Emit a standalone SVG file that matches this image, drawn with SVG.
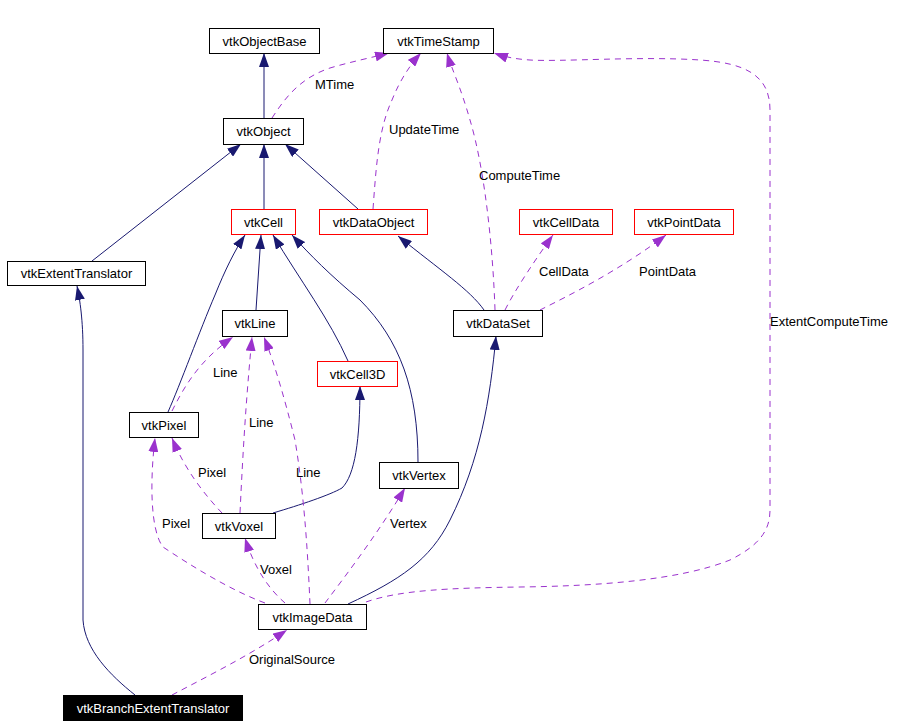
<svg xmlns="http://www.w3.org/2000/svg" width="900" height="727" viewBox="0 0 900 727">
<style>
text{font-family:"Liberation Sans",Arial,Helvetica,sans-serif;font-size:13px;fill:#000}
.n rect{fill:#fff;stroke:#000;stroke-width:1}
.n.r rect{stroke:#ff0000}
.n.b rect{fill:#000}
.n.b text{fill:#fff}
.n text{text-anchor:middle}
.inh{fill:none;stroke:#191970;stroke-width:1;marker-end:url(#ai)}
.use{fill:none;stroke:#9a32cd;stroke-width:1;stroke-dasharray:6,5;marker-end:url(#au)}
</style>
<defs>
<marker id="ai" markerUnits="userSpaceOnUse" markerWidth="14" markerHeight="10" refX="14" refY="5" orient="auto"><path d="M0,0 L14,5 L0,10 z" fill="#191970"/></marker>
<marker id="au" markerUnits="userSpaceOnUse" markerWidth="14" markerHeight="10" refX="14" refY="5" orient="auto"><path d="M0,0 L14,5 L0,10 z" fill="#9a32cd"/></marker>
</defs>
<rect width="900" height="727" fill="#fff"/>
<g id="connectors">
<path class="inh" d="M264,118 L264,53"/>
<path class="use" d="M272,118 C285,98 300,78 330,68 C350,62 370,58 389,53"/>
<path class="inh" d="M92,261 L241,144"/>
<path class="inh" d="M264,209 L264,144"/>
<path class="inh" d="M358,209 L285,144"/>
<path class="use" d="M373,209 C376,170 378,130 392,100 C400,80 410,65 421,53"/>
<path class="use" d="M495,310 C493,250 485,170 470,120 C460,85 452,70 447,53"/>
<path class="use" d="M366,602 C400,590 450,588 520,587 C600,586 680,580 730,560 C760,545 770,530 770,510 L770,110 C770,75 745,63 700,60 C640,56 560,62 530,60 C515,59 505,57 494,53"/>
<path class="inh" d="M484,310 C470,290 440,270 398,236"/>
<path class="use" d="M505,310 C515,290 535,260 553,235"/>
<path class="use" d="M540,310 C570,295 620,270 666,235"/>
<path class="inh" d="M256,310 L261,235"/>
<path class="inh" d="M168,412 C180,385 200,330 215,295 C225,270 235,250 245,235"/>
<path class="inh" d="M348,361 C330,320 300,280 273,235"/>
<path class="inh" d="M418,462 C418,390 400,340 360,300 C330,275 310,255 292,235"/>
<path class="inh" d="M273,513 C300,505 330,495 342,488 C355,475 360,440 360,386"/>
<path class="use" d="M172,411 C185,385 200,360 233,337"/>
<path class="use" d="M240,513 C243,450 246,400 252,337"/>
<path class="use" d="M310,604 C308,560 305,500 295,440 C285,400 275,365 264,337"/>
<path class="use" d="M222,513 C205,495 185,470 172,438"/>
<path class="use" d="M265,603 C230,590 190,565 163,547 C150,530 150,480 155,438"/>
<path class="use" d="M285,603 C270,590 255,570 245,538"/>
<path class="use" d="M325,603 C350,570 380,530 405,488"/>
<path class="inh" d="M348,604 C400,580 430,560 450,520 C480,460 490,400 496,336"/>
<path class="inh" d="M135,695 C110,675 85,650 83,620 L83,350 C83,320 80,300 77,286"/>
<path class="use" d="M172,695 C210,675 250,655 287,630"/>
<text x="315" y="89">MTime</text>
<text x="389" y="134">UpdateTime</text>
<text x="479" y="180">ComputeTime</text>
<text x="770" y="326">ExtentComputeTime</text>
<text x="539" y="276">CellData</text>
<text x="639" y="276">PointData</text>
<text x="213" y="377">Line</text>
<text x="249" y="427">Line</text>
<text x="296" y="477">Line</text>
<text x="198" y="477">Pixel</text>
<text x="162" y="528">Pixel</text>
<text x="260" y="574">Voxel</text>
<text x="390" y="528">Vertex</text>
<text x="249" y="664">OriginalSource</text>
</g>
<g id="vtkObjectBase" class="n"><rect x="209.5" y="28.5" width="110" height="25"/><text x="264.5" y="45.5">vtkObjectBase</text></g>
<g id="vtkTimeStamp" class="n"><rect x="383.5" y="28.5" width="110" height="25"/><text x="438.5" y="45.5">vtkTimeStamp</text></g>
<g id="vtkObject" class="n"><rect x="223.5" y="118.5" width="80" height="26"/><text x="263.5" y="136">vtkObject</text></g>
<g id="vtkCell" class="n r"><rect x="231.5" y="209.5" width="64" height="25"/><text x="263.5" y="226.5">vtkCell</text></g>
<g id="vtkDataObject" class="n r"><rect x="319.5" y="209.5" width="108" height="25"/><text x="373.5" y="226.5">vtkDataObject</text></g>
<g id="vtkCellData" class="n r"><rect x="519.5" y="209.5" width="93" height="25"/><text x="566" y="226.5">vtkCellData</text></g>
<g id="vtkPointData" class="n r"><rect x="634.5" y="209.5" width="99" height="25"/><text x="684" y="226.5">vtkPointData</text></g>
<g id="vtkExtentTranslator" class="n"><rect x="7.5" y="261.5" width="138" height="24"/><text x="76.5" y="278">vtkExtentTranslator</text></g>
<g id="vtkLine" class="n"><rect x="222.5" y="310.5" width="65" height="26"/><text x="255" y="328">vtkLine</text></g>
<g id="vtkDataSet" class="n"><rect x="453.5" y="310.5" width="89" height="26"/><text x="498" y="328">vtkDataSet</text></g>
<g id="vtkCell3D" class="n r"><rect x="317.5" y="361.5" width="80" height="25"/><text x="357.5" y="378.5">vtkCell3D</text></g>
<g id="vtkPixel" class="n"><rect x="129.5" y="412.5" width="69" height="25"/><text x="164" y="429.5">vtkPixel</text></g>
<g id="vtkVertex" class="n"><rect x="379.5" y="462.5" width="79" height="26"/><text x="419" y="480">vtkVertex</text></g>
<g id="vtkVoxel" class="n"><rect x="202.5" y="513.5" width="73" height="25"/><text x="239" y="530.5">vtkVoxel</text></g>
<g id="vtkImageData" class="n"><rect x="258.5" y="604.5" width="108" height="25"/><text x="312.5" y="621.5">vtkImageData</text></g>
<g id="vtkBranchExtentTranslator" class="n b"><rect x="63.5" y="695.5" width="179" height="25"/><text x="153" y="712.5">vtkBranchExtentTranslator</text></g>
</svg>
